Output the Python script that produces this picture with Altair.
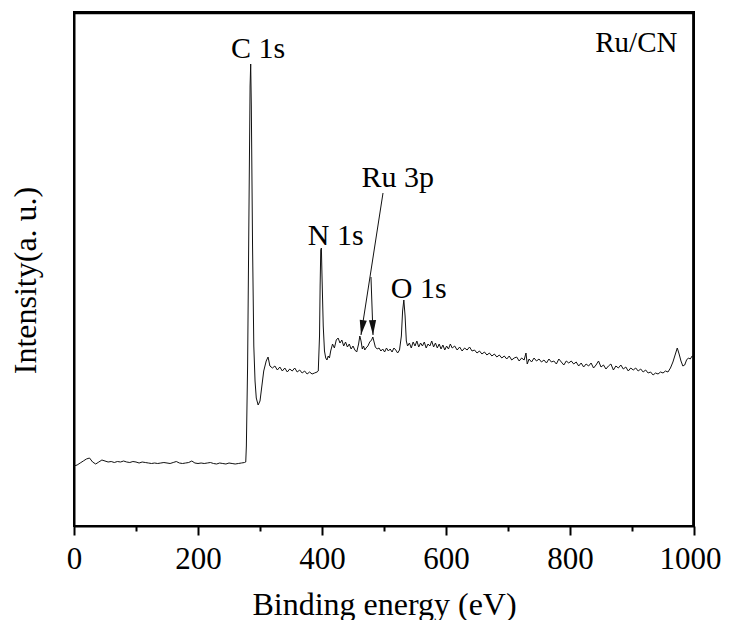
import altair as alt
import pandas as pd

# ---- XPS survey spectrum of Ru/CN (BE in eV, intensity in a.u.) ----
seg_low_be = [(0, 60), (5, 61), (10, 63), (15, 65), (20, 67), (25, 68), (30, 64), (35, 62), (40, 64), (45, 66),
              (50, 65), (55, 64), (60, 64.5), (65, 63.5), (70, 64.5), (75, 64), (80, 65), (85, 64), (90, 63.5),
              (95, 64.5), (100, 64), (105, 63), (110, 64), (115, 63.5), (120, 63), (125, 62.5), (130, 63),
              (135, 62.5), (140, 63), (145, 63.5), (150, 63), (155, 62.5), (160, 63.5), (165, 64.5), (170, 63),
              (175, 62.5), (180, 63), (185, 63.5), (190, 65), (195, 63), (200, 62.5), (205, 63), (210, 62.5),
              (215, 63), (220, 63.5), (225, 62.5), (230, 62), (235, 63), (240, 62.5), (245, 62), (250, 63),
              (255, 62.5), (260, 62), (265, 62.5), (270, 63), (275, 63.5), (277, 64)]
seg_c1s = [(278, 80), (280, 160), (282, 300), (284, 440), (285, 462), (286, 420), (288, 280), (290, 180),
           (292, 145), (294, 128), (297, 121), (300, 125), (303, 140), (306, 155), (310, 165), (313, 169),
           (316, 160)]
seg_mid = [(320, 158), (324, 160), (328, 156), (332, 159), (336, 155), (340, 158), (344, 154), (348, 157),
           (352, 155), (356, 158), (360, 154), (364, 156), (368, 153), (372, 155), (376, 152), (380, 154),
           (384, 152), (388, 153), (392, 154), (394, 155)]
seg_n1s = [(396, 190), (397, 240), (398, 276), (399, 278), (400, 250), (402, 200), (404, 175), (406, 168),
           (408, 166), (410, 170), (412, 168), (414, 175), (417, 182), (420, 178), (423, 186), (426, 188),
           (429, 183), (432, 186), (435, 180), (438, 184), (441, 179), (444, 182), (447, 177), (450, 180),
           (453, 176), (456, 174)]
seg_ru3p = [(459, 182), (461, 190), (463, 185), (465, 177), (467, 180), (469, 176), (471, 178), (474, 180),
            (477, 184), (480, 186), (482, 189), (484, 184), (486, 179), (489, 177)]
seg_o1s = [(492, 178), (495, 175), (498, 177), (501, 174), (504, 178), (507, 175), (510, 177), (513, 174),
           (516, 178), (519, 176), (522, 173), (525, 176), (528, 190), (530, 215), (532, 226), (534, 210),
           (536, 185), (538, 180)]
seg_tail1 = [(541, 183), (544, 178), (547, 184), (550, 180), (553, 185), (556, 179), (559, 183), (562, 180),
             (565, 184), (568, 178), (571, 182), (574, 180), (577, 185), (580, 179), (583, 183), (586, 178),
             (589, 182), (592, 177), (595, 181), (598, 176), (601, 180), (604, 177), (607, 182), (610, 178),
             (614, 180), (618, 176), (622, 179), (626, 175), (630, 178), (634, 176), (638, 179), (642, 175),
             (646, 176), (650, 173), (654, 175), (658, 172), (662, 174), (666, 171), (670, 173), (674, 170),
             (678, 172), (682, 169), (686, 171), (690, 168), (694, 170), (698, 167), (702, 170), (706, 166),
             (710, 168), (714, 169), (718, 165), (722, 168), (726, 166), (729, 173), (731, 162), (734, 167),
             (738, 164)]
seg_tail2 = [(742, 168), (746, 165), (750, 167), (754, 164), (758, 166), (762, 163), (766, 167), (770, 164),
             (774, 165), (778, 162), (782, 167), (786, 164), (790, 161), (794, 165), (798, 163), (802, 165),
             (806, 162), (810, 164), (814, 160), (818, 163), (822, 159), (826, 162), (830, 160), (834, 163),
             (838, 158), (842, 161), (846, 165), (850, 159), (854, 161), (858, 157), (862, 160), (866, 162),
             (870, 156), (874, 160), (878, 158), (882, 161), (886, 157), (890, 159), (894, 155), (898, 158),
             (902, 156), (906, 158), (910, 155), (914, 157), (918, 154), (922, 156), (926, 153), (930, 154),
             (934, 151), (938, 153), (942, 152), (946, 154), (950, 153), (954, 155), (958, 154), (962, 158),
             (966, 164), (970, 172), (973, 178), (976, 172), (979, 165), (982, 160), (985, 161), (988, 166),
             (991, 168), (994, 167), (997, 170), (1000, 169)]

segments = [seg_low_be, seg_c1s, seg_mid, seg_n1s, seg_ru3p, seg_o1s, seg_tail1, seg_tail2]
spectrum = pd.DataFrame([{"be": b, "intensity": v} for seg in segments for b, v in seg])

# peak labels (text, BE, intensity at text baseline)
label_text = ["C 1s", "N 1s", "O 1s", "Ru 3p"]
label_be = [297, 422, 556, 522]
label_int = [468, 281, 228, 339]
peak_labels = pd.DataFrame({"text": label_text, "be": label_be, "intensity": label_int})

sample_label = pd.DataFrame({"text": ["Ru/CN"], "be": [907], "intensity": [474]})

# Ru 3p arrows: start (near label) -> end (at peak)
arrow_be_start = [498.4, 479.0]
arrow_int_start = [333, 249]
arrow_be_end = [462.9, 482.3]
arrow_int_end = [191, 191]
arrow_angle = [8.8, 358.0]
arrows = pd.DataFrame({"be": arrow_be_start, "intensity": arrow_int_start,
                       "be2": arrow_be_end, "intensity2": arrow_int_end, "angle": arrow_angle})
heads = pd.DataFrame({"be": arrow_be_end, "intensity": arrow_int_end, "angle": arrow_angle})

# plot frame: top and right edges, drawn just inside the far ends of both scales
x_range = [0, 1000]
y_range = [0, 514]
frame_be = [0, 999]
frame_be2 = [1000, 999]
frame_int = [513, 0]
frame_int2 = [513, 514]
frame_edges = pd.DataFrame({"fx": frame_be, "fx2": frame_be2, "fy": frame_int, "fy2": frame_int2})

FONT = "Liberation Serif, DejaVu Serif, serif"
x_scale = alt.Scale(domain=x_range, nice=False, zero=False)
y_scale = alt.Scale(domain=y_range, nice=False, zero=False)

x_axis = alt.Axis(
    title="Binding energy (eV)", values=list(range(0, 1001, 100)),
    labelExpr="datum.value % 200 === 0 ? datum.label : ''",
    format="d", grid=False, domainColor="black", domainWidth=2,
    tickColor="black", tickWidth=2,
    tickSize={"condition": {"test": "datum.value % 200 !== 0", "value": 5}, "value": 9},
    labelOffset={"condition": {"test": "datum.value === 1000", "value": -4}, "value": 0},
    labelFont=FONT, labelFontSize=31, labelColor="black", labelBaseline="alphabetic",
    labelPadding=33, labelFlush=False, labelOverlap=False,
    titleFont=FONT, titleFontSize=32, titleFontWeight="normal", titleColor="black",
    titleBaseline="alphabetic", titleAlign="center", titleX=310, titleY=88,
)
y_axis = alt.Axis(
    title="Intensity(a. u.)", labels=False, ticks=False, grid=False,
    domainColor="black", domainWidth=2,
    titleFont=FONT, titleFontSize=32, titleFontWeight="normal", titleColor="black",
    titleAngle=270, titleBaseline="alphabetic", titleAlign="center", titleX=-39, titleY=268,
)

X = alt.X("be:Q", scale=x_scale, axis=x_axis)
Y = alt.Y("intensity:Q", scale=y_scale, axis=y_axis)

line = alt.Chart(spectrum).mark_line(color="#111111", strokeWidth=1).encode(x=X, y=Y)

frame = alt.Chart(frame_edges).mark_rule(color="#000000", strokeWidth=2.5).encode(
    x=alt.X("fx:Q", scale=x_scale, axis=x_axis),
    x2="fx2:Q",
    y=alt.Y("fy:Q", scale=y_scale, axis=y_axis),
    y2="fy2:Q",
)

texts = alt.Chart(peak_labels).mark_text(
    font=FONT, fontSize=30, color="black", align="center", baseline="alphabetic"
).encode(x=X, y=Y, text="text:N")

sample = alt.Chart(sample_label).mark_text(
    font=FONT, fontSize=29, color="black", align="center", baseline="alphabetic"
).encode(x=X, y=Y, text="text:N")

arrow_lines = alt.Chart(arrows).mark_rule(color="#111111", strokeWidth=1).encode(
    x=X, y=Y, x2="be2:Q", y2="intensity2:Q")

arrow_heads = alt.Chart(heads).mark_point(
    shape="M0,0L-0.24,-1L0.24,-1Z", filled=True, color="#111111", opacity=1, size=900, strokeWidth=0
).encode(x=X, y=Y, angle=alt.Angle("angle:Q", scale=None))

chart = alt.layer(line, arrow_lines, arrow_heads, texts, sample, frame).properties(
    width=620, height=514,
    autosize=alt.AutoSizeParams(type="none"),
    padding={"left": 66, "top": 4, "right": 27, "bottom": 94},
).configure(font=FONT, background="white").configure_view(stroke="black", strokeWidth=2)

chart.save("out.html", embed_options={"renderer": "svg", "actions": False})
